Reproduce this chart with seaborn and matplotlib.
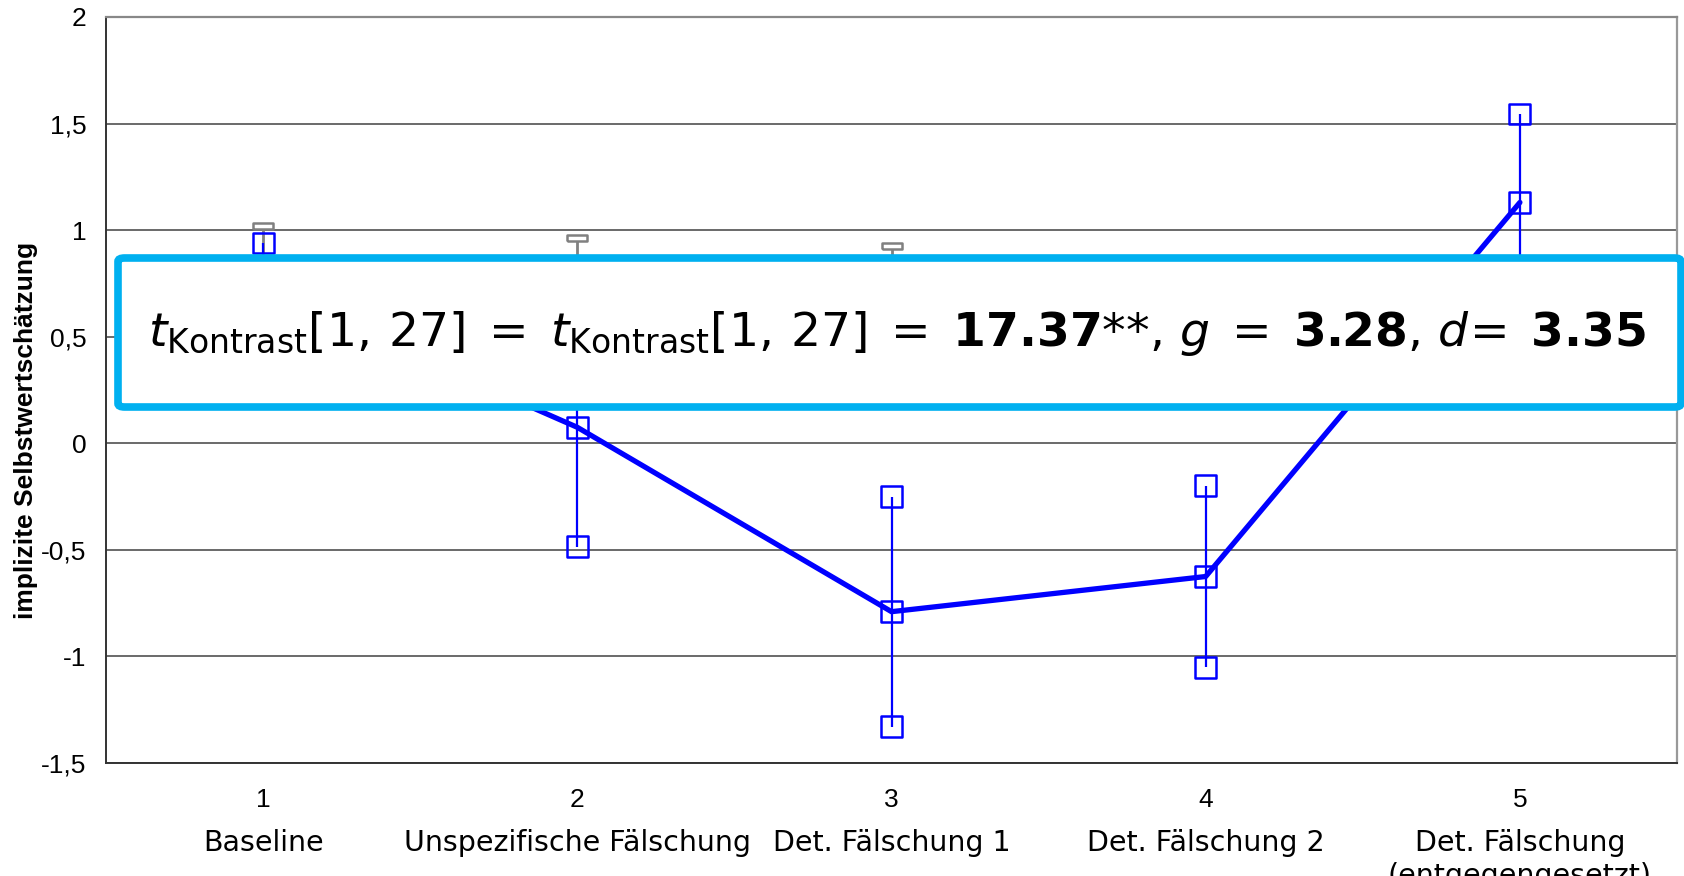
import numpy as np
import pandas as pd
import seaborn as sns
import matplotlib
import matplotlib.pyplot as plt
from matplotlib.patches import FancyBboxPatch
from matplotlib.transforms import blended_transform_factory

matplotlib.use('Agg')

conditions = [1, 2, 3, 4, 5]
condition_names = ['Baseline', 'Unspezifische Fälschung', 'Det. Fälschung 1',
                   'Det. Fälschung 2', 'Det. Fälschung\n(entgegengesetzt)']
blue_mean = [0.72, 0.075, -0.79, -0.625, 1.13]
blue_err = [0.22, 0.56, 0.54, 0.425, 0.415]
# grey series, mostly hidden behind the annotation box
gray_mean = [0.62, 0.57, 0.52, 0.48, 0.5]
gray_err = [0.40, 0.395, 0.405, 0.3, 0.3]
y_ticks = [-1.5, -1, -0.5, 0, 0.5, 1, 1.5, 2]
y_ticklabels = ['-1,5', '-1', '-0,5', '0', '0,5', '1', '1,5', '2']

sns.set_style('white')
plt.rcParams['font.family'] = ['Liberation Sans', 'DejaVu Sans']
plt.rcParams['text.color'] = 'black'
plt.rcParams['xtick.color'] = 'black'
plt.rcParams['ytick.color'] = 'black'
plt.rcParams['mathtext.fontset'] = 'dejavusans'

df = pd.DataFrame({'cond': conditions, 'mean': blue_mean, 'err': blue_err})
df['lower'] = df['mean'] - df['err']
df['upper'] = df['mean'] + df['err']
pts = pd.DataFrame({'cond': conditions * 3,
                    'val': list(df['lower']) + list(df['mean']) + list(df['upper'])})

gdf = pd.DataFrame({'cond': conditions, 'mean': gray_mean, 'err': gray_err})
gdf['upper'] = gdf['mean'] + gdf['err']

fig = plt.figure(figsize=(16.84, 8.76), dpi=100)
ax = fig.add_axes([106 / 1684, 1 - 763 / 876, (1677 - 106) / 1684, (763 - 17) / 876])

# grey series
sns.lineplot(data=gdf, x='cond', y='mean', color='#808080', linewidth=2, ax=ax, zorder=2)
ax.vlines(gdf['cond'], gdf['mean'], gdf['upper'], color='#808080', lw=2, zorder=3)
cap = [(-1, -0.3), (1, -0.3), (1, 0.3), (-1, 0.3), (-1, -0.3)]
ax.scatter(gdf['cond'], gdf['upper'], marker=cap, s=15 ** 2, facecolors='white',
           edgecolors='#808080', linewidths=1.8, zorder=4)

# blue series
ax.vlines(df['cond'], df['lower'], df['upper'], color='blue', lw=1.6, zorder=3)
sns.lineplot(data=df, x='cond', y='mean', color='blue', linewidth=3.8, ax=ax, zorder=3)
sns.scatterplot(data=pts, x='cond', y='val', marker='s', s=15 ** 2, facecolors='none',
                edgecolor='blue', linewidth=1.8, ax=ax, zorder=4)

ax.set_xlim(0.5, 5.5)
ax.set_ylim(-1.5, 2)
ax.set_yticks(y_ticks)
ax.set_yticklabels(y_ticklabels, fontsize=19)
ax.set_xticks(conditions)
ax.set_xticklabels([str(c) for c in conditions], fontsize=19)
ax.set_xticks(np.arange(0.5, 6.0, 1.0), minor=True)
ax.tick_params(axis='x', which='major', length=0, pad=18)
ax.tick_params(axis='x', which='minor', length=8, width=1.2, color='#333333')
ax.tick_params(axis='y', length=8, width=1.2, color='#333333', pad=6)
ax.set_xlabel('')
ax.set_ylabel('')

ax.grid(axis='y', color='#505050', lw=1.2)
ax.set_axisbelow(True)
for side in ['left', 'bottom']:
    ax.spines[side].set_color('#333333')
    ax.spines[side].set_linewidth(1.4)
ax.spines['right'].set_color('#999999')
ax.spines['right'].set_linewidth(1.6)
ax.spines['top'].set_color('#888888')
ax.spines['top'].set_linewidth(1.6)

trans = blended_transform_factory(ax.transData, fig.transFigure)
for c, name in zip(conditions, condition_names):
    fig.text(c, 1 - 829 / 876, name, transform=trans, ha='center', va='top',
             fontsize=20.5, family='DejaVu Sans', linespacing=1.25)

fig.text(26 / 1684, 1 - 430 / 876, 'implizite Selbstwertschätzung', rotation=90,
         ha='center', va='center', fontsize=19, fontweight='bold')

box = FancyBboxPatch((118 / 1684, 1 - 407 / 876), (1681 - 118) / 1684, (407 - 258) / 876,
                     boxstyle='round,pad=0,rounding_size=0.004', transform=fig.transFigure,
                     facecolor='white', edgecolor='#00B0F0', linewidth=5.5, zorder=5)
fig.patches.append(box)

label = (r'$t_{\mathrm{Kontrast}}\mathrm{[1,\,27]}\;=\;t_{\mathrm{Kontrast}}'
         r'\mathrm{[1,\,27]}\;=\;\mathbf{17.37}{*}{*}\mathrm{,}\ g\;=\;'
         r'\mathbf{3.28}\mathrm{,}\ d\!=\;\mathbf{3.35}$')
fig.text(897 / 1684, 1 - 333 / 876, label, ha='center', va='center', fontsize=34, zorder=6)

plt.savefig('out.png', dpi=100)
plt.close()
